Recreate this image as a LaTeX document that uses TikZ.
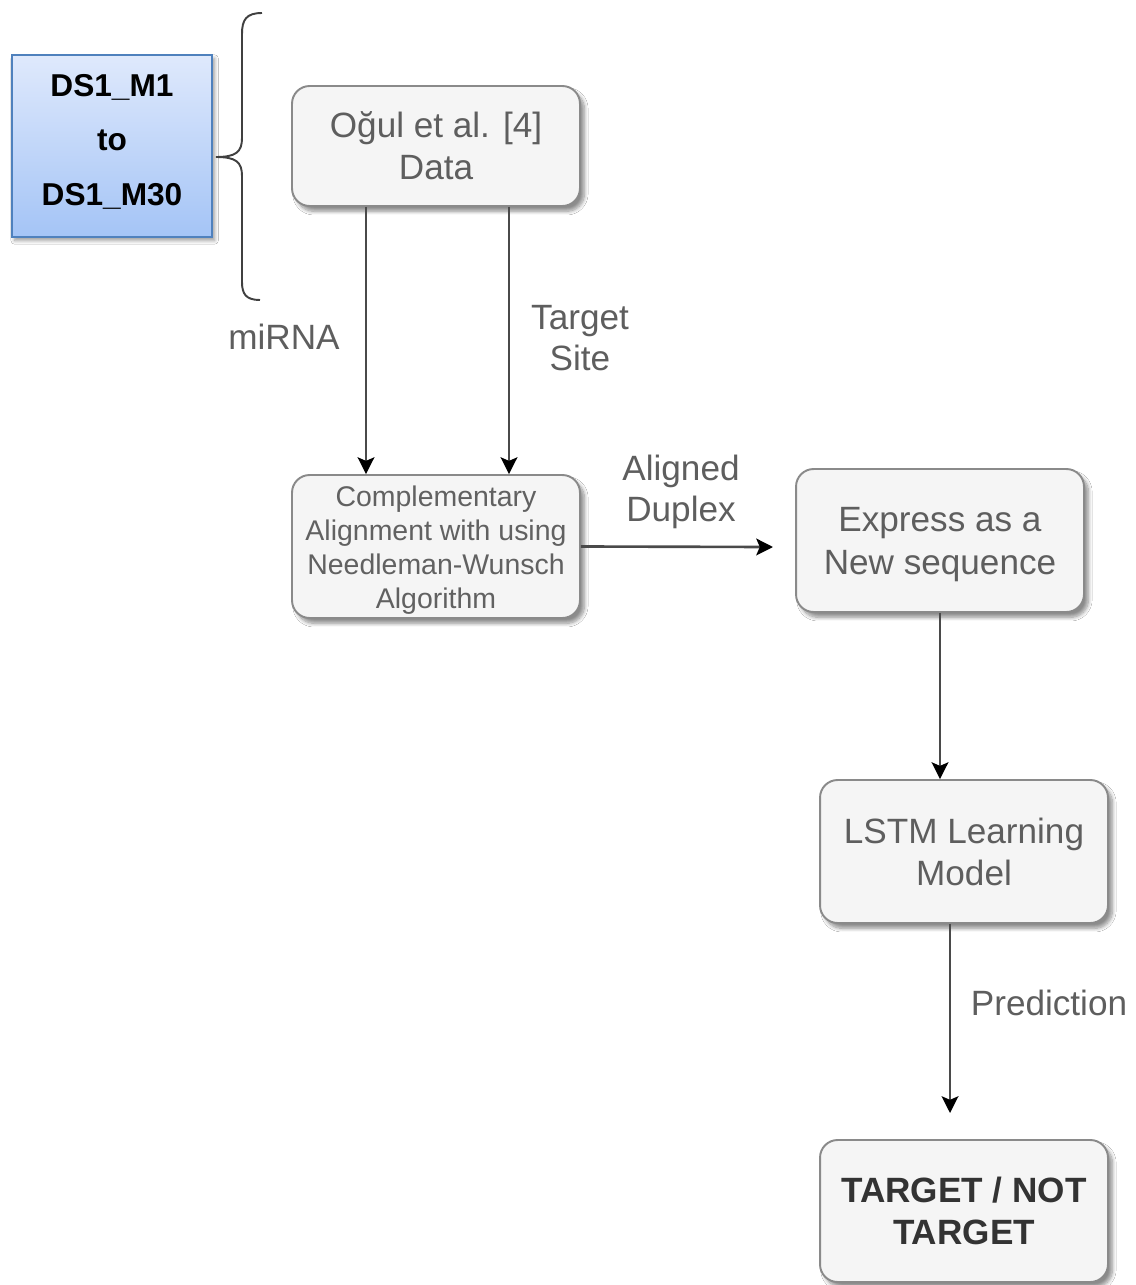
\documentclass[tikz,border=0pt]{standalone}
\usepackage{fontspec}
\setmainfont{Liberation Sans}
\usetikzlibrary{arrows.meta,shadows.blur}

\definecolor{boxfill}{HTML}{F5F5F5}
\definecolor{boxline}{HTML}{8A8A8A}
\definecolor{boxtext}{HTML}{5E5E5E}
\definecolor{arrline}{HTML}{4A4A4A}
\definecolor{dstop}{HTML}{DFE9FC}
\definecolor{dsbot}{HTML}{A4C4F6}
\definecolor{dsline}{HTML}{4F81BD}

\tikzset{
  stepbox/.style={draw=boxline, line width=1.1pt, fill=boxfill, rounded corners=10pt,
    minimum width=5.76cm,
    blur shadow={shadow xshift=2.5pt, shadow yshift=-3pt, shadow blur steps=8, shadow opacity=45}},
  steptext/.style={align=center, text=boxtext, inner sep=0pt, font=\fontsize{20}{24}\selectfont},
  dsbox/.style={draw=dsline, line width=0.9pt, top color=dstop, bottom color=dsbot,
    minimum width=4cm, minimum height=3.64cm,
    blur shadow={shadow xshift=1.5pt, shadow yshift=-2pt, shadow blur steps=6, shadow opacity=40}},
  dstext/.style={align=center, inner sep=0pt, font=\fontsize{18}{31}\selectfont\bfseries},
  lbl/.style={text=boxtext, align=center, font=\fontsize{20}{23.5}\selectfont},
  arr/.style={draw=arrline, line width=1.5pt,
    -{Stealth[length=9.5pt,width=9.5pt,inset=2pt,color=black]}},
  bracecol/.style={draw=black!75, line width=1.1pt}
}

\begin{document}
\begin{tikzpicture}[x=0.02cm, y=-0.02cm]
  \useasboundingbox[fill=white] (0,0) rectangle (1136,1285);

  % source data sets
  \node[dsbox] (ds) at (112,146) {};
  \node[dstext] (dsText) at (112,141.5) {DS1\_M1\\to\\DS1\_M30};

  % curly brace grouping the data sets
  \draw[bracecol] (262,13) .. controls (246,13) and (242,20) .. (242,34)
    -- (242,138) .. controls (242,152) and (236,157) .. (216,157)
    .. controls (236,157) and (242,162) .. (242,176)
    -- (242,282) .. controls (242,294) and (246,300) .. (260,300);

  % process boxes
  \node[stepbox, minimum height=2.4cm] (ogul) at (436,146) {};
  \node[steptext] (ogulText) at (436,146) {Oğul et al. [4]\\Data};

  \node[stepbox, minimum height=2.86cm] (compl) at (436,546.5) {};
  \node[steptext, text=black!62, font=\fontsize{16.2}{19.3}\selectfont]
    (complText) at (436,550) {Complementary\\Alignment with using\\Needleman-Wunsch\\Algorithm};

  \node[stepbox, minimum height=2.86cm] (express) at (940,540.5) {};
  \node[steptext] (expressText) at (940,544.5) {Express as a\\New sequence};

  \node[stepbox, minimum height=2.86cm] (lstm) at (964,851.5) {};
  \node[steptext] (lstmText) at (964,852) {LSTM Learning\\Model};

  \node[stepbox, minimum height=2.84cm] (target) at (964,1211) {};
  \node[steptext, text=black!80, font=\fontsize{20}{24}\selectfont\bfseries]
    (targetText) at (964,1211) {TARGET / NOT\\TARGET};

  % free ends of the open arrows
  \coordinate (alignEnd) at (773,547);
  \coordinate (predEnd) at (950,1113);

  % connectors
  \draw[arr] ([xshift=-70*0.02cm]ogul.south) -- ([xshift=-70*0.02cm]compl.north);
  \draw[arr] ([xshift=73*0.02cm]ogul.south) -- ([xshift=73*0.02cm]compl.north);
  \draw[arr] (compl.east) -- (alignEnd);
  \draw[arr] (express.south) -- (express.south |- lstm.north);
  \draw[arr] (lstm.south -| predEnd) -- (predEnd);

  % connector labels
  \node[lbl] (lmirna) at (284,337) {miRNA};
  \node[lbl] (lsite) at (580,338) {Target\\Site};
  \node[lbl] (ldup) at (681,492) {Aligned\\Duplex};
  \node[lbl] (lpred) at (1049,1003) {Prediction};
\end{tikzpicture}
\end{document}
